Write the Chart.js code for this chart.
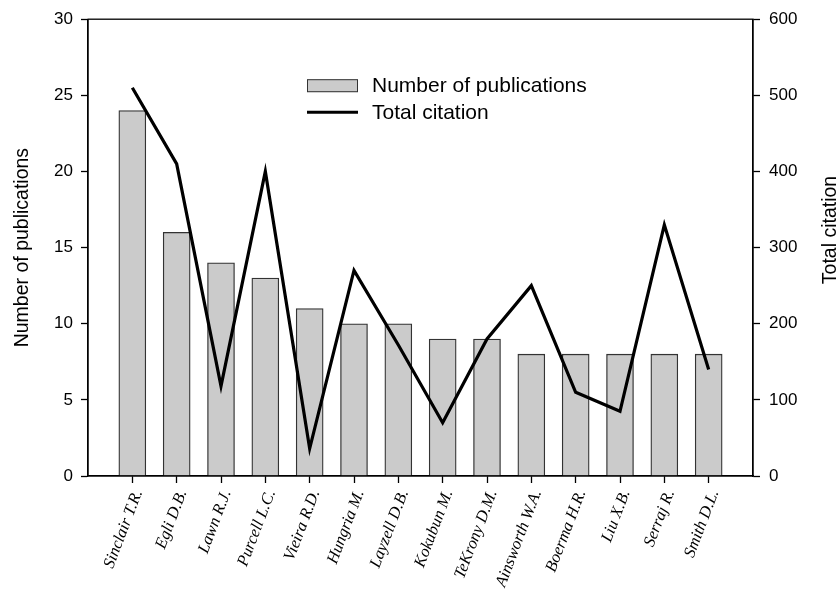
<!DOCTYPE html>
<html>
<head>
<meta charset="utf-8">
<script src="https://cdn.jsdelivr.net/npm/chart.js@4/dist/chart.umd.min.js"></script>
<style>
  html, body { margin: 0; padding: 0; background: #fff; }
  #wrap { width: 839px; height: 596px; }
</style>
</head>
<body>
<div id="wrap"><canvas id="chart" width="839" height="596"></canvas></div>
<script>
const AUTHORS = [
  "Sinclair T.R.", "Egli D.B.", "Lawn R.J.", "Purcell L.C.", "Vieira R.D.",
  "Hungria M.", "Layzell D.B.", "Kokubun M.", "TeKrony D.M.", "Ainsworth W.A.",
  "Boerma H.R.", "Liu X.B.", "Serraj R.", "Smith D.L."
];
const PUBLICATIONS = [24, 16, 14, 13, 11, 10, 10, 9, 9, 8, 8, 8, 8, 8];
const CITATIONS = [510, 410, 118, 400, 36, 270, 172, 70, 180, 250, 110, 85, 330, 140];
const LEFT_TICKS = [0, 5, 10, 15, 20, 25, 30];
const RIGHT_TICKS = [0, 100, 200, 300, 400, 500, 600];

const SANS = "'Liberation Sans', Arial, sans-serif";
const SERIF = "'Liberation Serif', 'Times New Roman', serif";

// one empty slot at each end so the bars sit a full step in from the frame
const labels = ["", ...AUTHORS, ""];
const pad = arr => [null, ...arr, null];

const framePlugin = {
  id: "frame",
  afterDraw(chart) {
    const { ctx, chartArea: a } = chart;
    ctx.save();
    ctx.strokeStyle = "#000";
    ctx.lineWidth = 1.3;
    ctx.strokeRect(a.left, a.top, a.right - a.left, a.bottom - a.top);

    // right axis title, reading bottom to top
    ctx.fillStyle = "#000";
    ctx.font = "19.5px " + SANS;
    ctx.textAlign = "center";
    ctx.textBaseline = "middle";
    ctx.translate(831, 230);
    ctx.rotate(-Math.PI / 2);
    ctx.fillText("Total citation", 0, 0);
    ctx.restore();

    // legend inside the plot
    const ds = chart.data.datasets;
    const bx = a.left + 219, by = a.top + 60;
    ctx.save();
    ctx.font = "21px " + SANS;
    ctx.textAlign = "left";
    ctx.textBaseline = "middle";
    ctx.fillStyle = ds[0].backgroundColor;
    ctx.fillRect(bx, by, 51, 13);
    ctx.strokeStyle = ds[0].borderColor;
    ctx.lineWidth = 1;
    ctx.strokeRect(bx + 0.5, by + 0.5, 50, 12);
    ctx.fillStyle = "#000";
    ctx.fillText(ds[0].label, bx + 65, by + 7);
    ctx.strokeStyle = ds[1].borderColor;
    ctx.lineWidth = 3;
    ctx.beginPath();
    ctx.moveTo(bx, by + 33);
    ctx.lineTo(bx + 51, by + 33);
    ctx.stroke();
    ctx.fillText(ds[1].label, bx + 65, by + 34);
    ctx.restore();
  }
};

const endTick = c => (c.index === 0 || c.index === labels.length - 1) ? "rgba(0,0,0,0)" : "#000";

new Chart(document.getElementById("chart"), {
  data: {
    labels: labels,
    datasets: [
      {
        type: "bar",
        label: "Number of publications",
        data: pad(PUBLICATIONS),
        yAxisID: "y",
        backgroundColor: "#cbcbcb",
        borderColor: "#333",
        borderWidth: 1.3,
        barThickness: 27,
        order: 2
      },
      {
        type: "line",
        label: "Total citation",
        data: pad(CITATIONS),
        yAxisID: "y1",
        borderColor: "#000",
        borderWidth: 3.2,
        pointRadius: 0,
        tension: 0,
        fill: false,
        order: 1
      }
    ]
  },
  options: {
    responsive: false,
    animation: false,
    layout: { padding: { top: 19, left: 0, right: 0, bottom: 0 } },
    plugins: { legend: { display: false }, tooltip: { enabled: false } },
    scales: {
      x: {
        offset: false,
        grid: { offset: false, drawOnChartArea: false, drawTicks: true, tickLength: 7, tickColor: endTick, tickWidth: 1.3 },
        border: { color: "#000", width: 1.3 },
        ticks: {
          autoSkip: false,
          minRotation: 69,
          maxRotation: 69,
          padding: 4,
          labelOffset: 6,
          color: "#000",
          font: { family: SERIF, size: 16.5, style: "italic" }
        },
        afterFit(s) { s.height = 120; }
      },
      y: {
        position: "left",
        min: 0,
        max: 30,
        afterBuildTicks(s) { s.ticks = LEFT_TICKS.map(v => ({ value: v })); },
        grid: { drawOnChartArea: false, tickLength: 7, tickColor: "#000", tickWidth: 1.3 },
        border: { color: "#000", width: 1.3 },
        ticks: { color: "#000", padding: 8, font: { family: SANS, size: 17 } },
        title: { display: true, text: "Number of publications", color: "#000", padding: { top: 11, bottom: 0 }, font: { family: SANS, size: 19.5 } },
        afterFit(s) { s.width = 88; }
      },
      y1: {
        position: "right",
        min: 0,
        max: 600,
        afterBuildTicks(s) { s.ticks = RIGHT_TICKS.map(v => ({ value: v })); },
        grid: { drawOnChartArea: false, tickLength: 7, tickColor: "#000", tickWidth: 1.3 },
        border: { color: "#000", width: 1.3 },
        ticks: { color: "#000", padding: 9, font: { family: SANS, size: 17 } },
        afterFit(s) { s.width = 86; }
      }
    }
  },
  plugins: [framePlugin]
});
</script>
</body>
</html>
